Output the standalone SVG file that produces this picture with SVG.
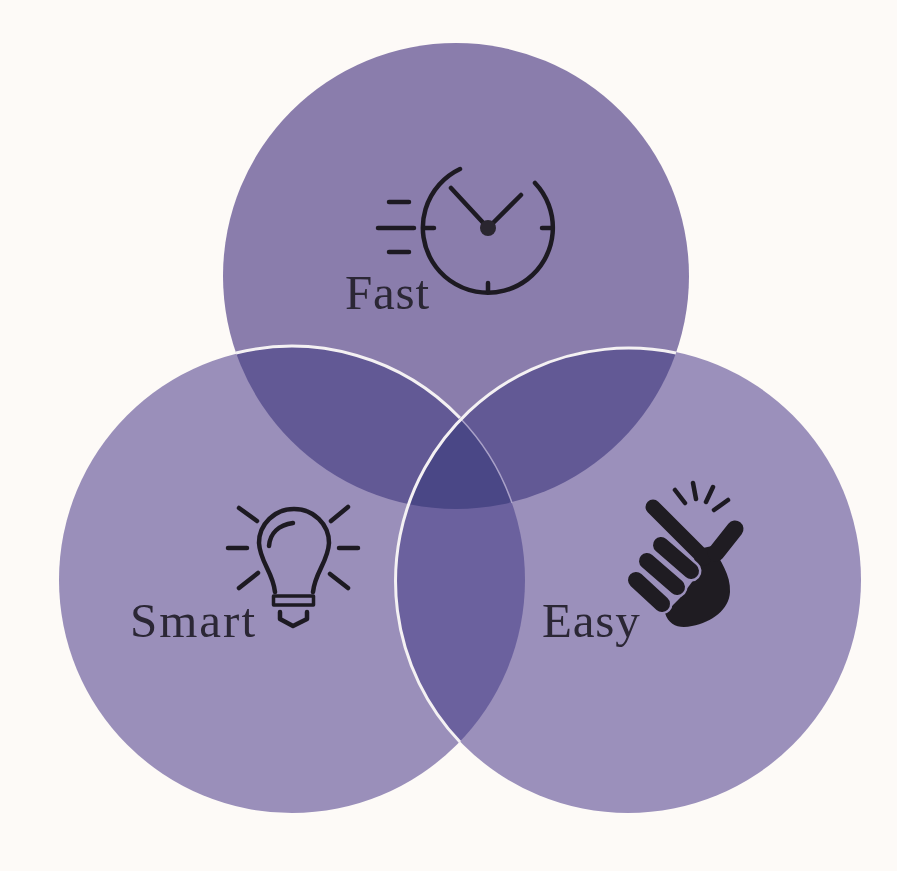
<svg xmlns="http://www.w3.org/2000/svg" width="897" height="871" viewBox="0 0 897 871">
<style>
.l{font-family:"Liberation Serif",serif;font-size:49px;fill:#2b2735}
.i{fill:none;stroke:#1d1a22;stroke-width:4.5;stroke-linecap:round;stroke-linejoin:round}
.f{fill:none;stroke-linecap:round}
</style>
<defs>
<clipPath id="ct"><circle cx="456" cy="276" r="233"/></clipPath>
<clipPath id="cl"><circle cx="292" cy="580" r="233"/></clipPath>
<clipPath id="cr"><circle cx="628" cy="580" r="233"/></clipPath>
</defs>
<rect width="897" height="871" fill="#fdfaf7"/>
<g id="circles">
<circle id="circle-fast" cx="456" cy="276" r="233" fill="#8a7dac"/>
<circle id="circle-smart" cx="292" cy="580" r="233" fill="#9a8fba"/>
<circle id="circle-easy" cx="628" cy="580" r="233" fill="#9b90bb"/>
<g clip-path="url(#ct)"><circle cx="292" cy="580" r="233" fill="#625995"/><circle cx="628" cy="580" r="233" fill="#625995"/></g>
<g clip-path="url(#cl)"><circle cx="628" cy="580" r="233" fill="#6b619e"/></g>
<g clip-path="url(#ct)"><g clip-path="url(#cl)"><circle cx="628" cy="580" r="233" fill="#4a4786"/></g></g>
</g>
<g id="connectors" fill="none">
<path d="M236 353A233 233 0 0 1 460 418" stroke="#f4f1f3" stroke-width="3"/>
<path d="M460 418A233 233 0 0 1 512 503" stroke="#a9a1c8" stroke-width="1.5"/>
<path d="M676 353A233 233 0 0 0 460 742" stroke="#f4f1f3" stroke-width="3"/>
</g>
<g id="node-fast">
<g class="i">
<path d="M460 169A65 65 0 1 0 535 183"/>
<path d="M451 188L488 228L521 195"/>
<path d="M389 202H409M378 228H414M389 252H409M424 228H434M542 228H552M488 283V292"/>
</g>
<circle cx="488" cy="228" r="8" fill="#2a2630"/>
<text class="l" x="345" y="309" letter-spacing="0.800">Fast</text>
</g>
<g id="node-smart">
<g class="i">
<path d="M275 592C273 572 260 562 259 543A35 34 0 0 1 329 543C328 562 315 572 313 592"/>
<path d="M269 546C270 533 279 525 293 523"/>
<rect x="273.500" y="596" width="40" height="9" stroke-width="3.500"/>
<path d="M280 612V619L293 626L307 619V612"/>
<path d="M239 508L257 521M348 507L331 521M228 548H247M339 548H358M239 588L258 573M330 574L348 588"/>
</g>
<text class="l" x="130" y="637" letter-spacing="2">Smart</text>
</g>
<g id="node-easy">
<path class="i" d="M675 490L685 503M693 483L696 499M713 487L706 502M728 500L714 510"/>
<path fill="#1f1c22" d="M694 550L712 546C720 560 731 575 730 592C729 610 712 622 692 626C680 629 669 626 665 613L680 598L695 578Z"/>
<g class="f" stroke="#1f1c22">
<path d="M653 507L704 558" stroke-width="15"/>
<path d="M735 529L716 553" stroke-width="17"/>
</g>
<g class="f" stroke="#9b90bb">
<path d="M661 545L691 571" stroke-width="21"/>
<path d="M647 561L677 587" stroke-width="21"/>
<path d="M636 580L662 604" stroke-width="21"/>
</g>
<g class="f" stroke="#1f1c22">
<path d="M661 545L691 571" stroke-width="16"/>
<path d="M647 561L677 587" stroke-width="16"/>
<path d="M636 580L662 604" stroke-width="16"/>
</g>
<text class="l" x="542" y="637" letter-spacing="0.800">Easy</text>
</g>
</svg>
